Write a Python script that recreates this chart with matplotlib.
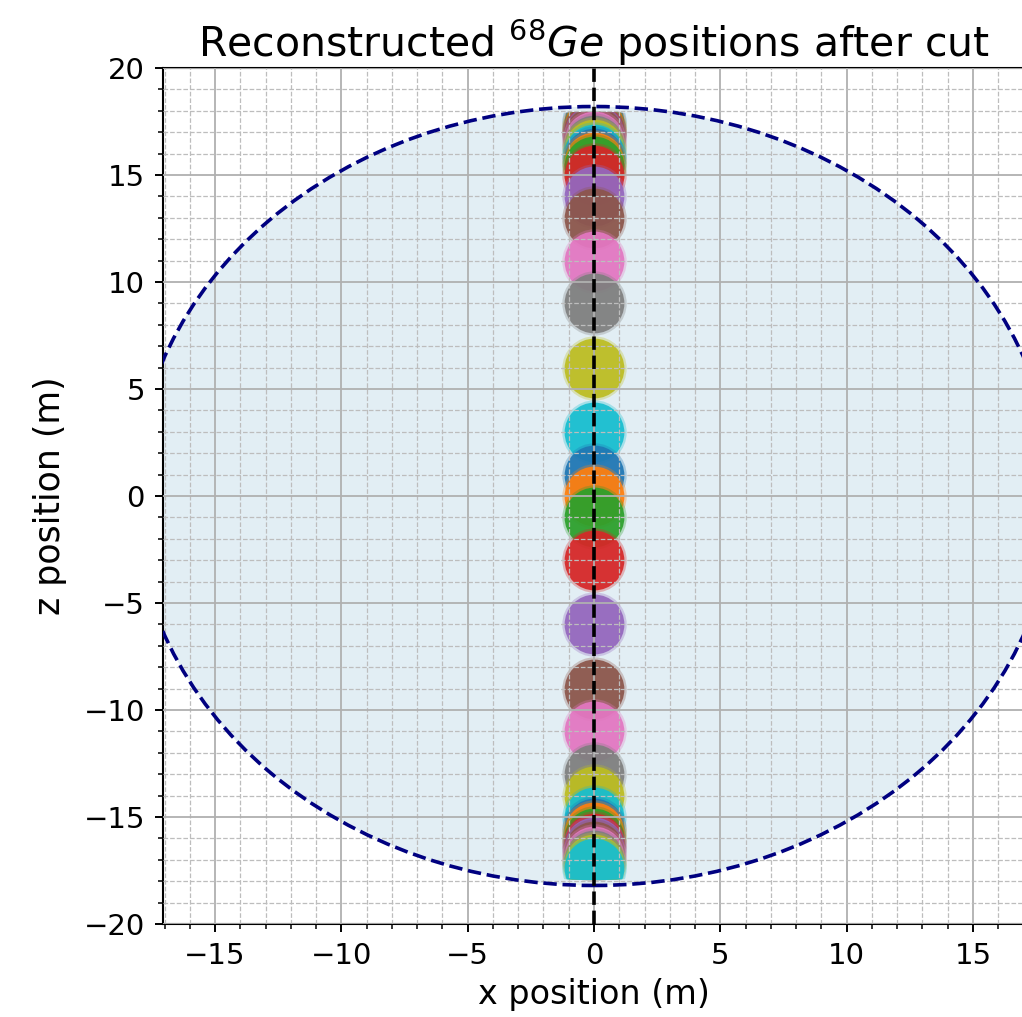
import matplotlib.pyplot as plt
from matplotlib.patches import Circle
from matplotlib.ticker import MultipleLocator

# calibration source positions along the z axis (m), plotted top to bottom
z_points = [17.5, 17.3, 17.1, 17.0, 16.9, 16.8, 16.6, 16.4, 16.2, 16.0,
            15.8, 15.6, 15.4, 15.0, 14.0, 13.0, 11.0, 9.0, 6.0, 3.0,
            1.0, 0.0, -1.0, -3.0, -6.0, -9.0, -11.0, -13.0, -14.0, -15.0,
            -15.5, -15.7, -16.0, -16.2, -16.4, -16.6, -16.8, -17.0, -17.2, -17.4]
x_points = [0.0] * len(z_points)

detector_radius = 18.2
cut_radius = 17.95
xlim = (-17.06, 17.06)
ylim = (-20, 20)

fig = plt.figure(figsize=(10.22, 10.17), dpi=100)
ax = fig.add_axes([163 / 1022, 93 / 1017, 862 / 1022, 856 / 1017])

detector = Circle((0, 0), detector_radius, facecolor='#e2eef4',
                  edgecolor='none', zorder=0.5)
ax.add_patch(detector)
outline = Circle((0, 0), detector_radius, facecolor='none', edgecolor='navy',
                 linestyle='--', linewidth=2.6, zorder=3)
ax.add_patch(outline)

cut = Circle((0, 0), cut_radius, transform=ax.transData)
colors = [f'C{i % 10}' for i in range(len(z_points))]
for x, z, c in zip(x_points, z_points, colors):
    halo = ax.scatter([x], [z], s=2150, color=c, alpha=0.3, linewidths=0, zorder=1)
    core = ax.scatter([x], [z], s=1850, color=c, alpha=0.92, linewidths=0, zorder=1)
    halo.set_clip_path(cut)
    core.set_clip_path(cut)

ax.axvline(0, color='black', linestyle='--', linewidth=2.6, zorder=3)

ax.set_xlim(*xlim)
ax.set_ylim(*ylim)
ax.xaxis.set_major_locator(MultipleLocator(5))
ax.yaxis.set_major_locator(MultipleLocator(5))
ax.xaxis.set_minor_locator(MultipleLocator(1))
ax.yaxis.set_minor_locator(MultipleLocator(1))
ax.set_axisbelow(False)
ax.grid(which='major', color='#b0b0b0', linestyle='-', linewidth=1.3)
ax.grid(which='minor', color='#bdbdbd', linestyle='--', linewidth=0.9)

ax.tick_params(which='major', labelsize=21, length=6, width=1.4, pad=7)
ax.tick_params(which='minor', length=3.5, width=1.1)
for sp in ax.spines.values():
    sp.set_linewidth(1.5)

ax.set_xlabel('x position (m)', fontsize=24, labelpad=6)
ax.set_ylabel('z position (m)', fontsize=25, labelpad=12)
ax.set_title('Reconstructed $^{68}Ge$ positions after cut', fontsize=29.5, pad=8)

fig.savefig('out.png', dpi=100)
